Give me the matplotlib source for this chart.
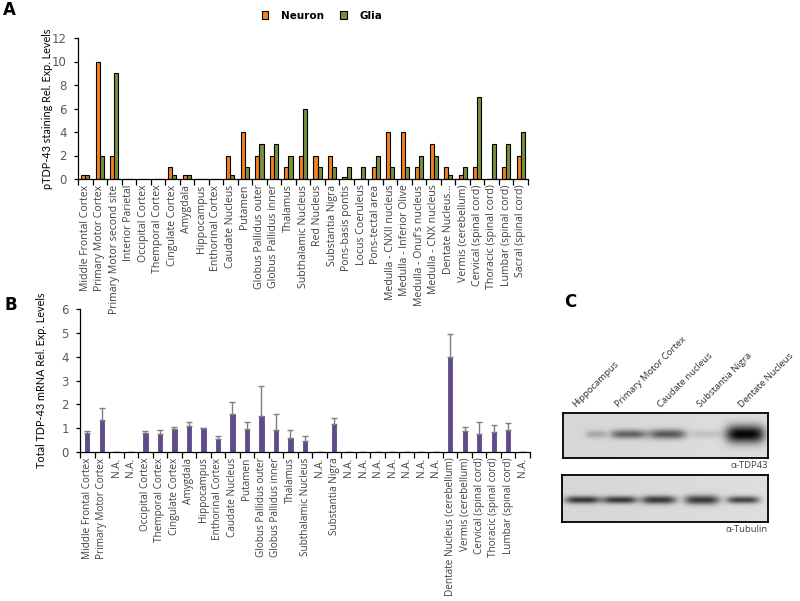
import numpy as np
import matplotlib
matplotlib.use("Agg")
import matplotlib.pyplot as plt
from matplotlib.patches import Patch

# ---- panel A data: pTDP-43 staining ----
regions_a = ["Middle Frontal Cortex", "Primary Motor Cortex", "Primary Motor second site",
             "Interior Parietal", "Occipital Cortex", "Themporal Cortex", "Cingulate Cortex",
             "Amygdala", "Hippocampus", "Enthorinal Cortex", "Caudate Nucleus", "Putamen",
             "Globus Pallidus outer", "Globus Pallidus inner", "Thalamus", "Subthalamic Nucleus",
             "Red Nucleus", "Substantia Nigra", "Pons-basis pontis", "Locus Coeruleus",
             "Pons-tectal area", "Medulla - CNXII nucleus", "Medulla - Inferior Olive",
             "Medulla - Onuf's nucleus", "Medulla - CNX nucleus", "Dentate Nucleus...",
             "Vermis (cerebellum)", "Cervical (spinal cord)", "Thoracic (spinal cord)",
             "Lumbar (spinal cord)", "Sacral (spinal cord)"]
neuron = [0.3, 10, 2, 0, 0, 0, 1, 0.3, 0, 0, 2, 4, 2, 2, 1, 2, 2, 2, 0.2, 0, 1,
          4, 4, 1, 3, 1, 0.3, 1, 0, 1, 2]
glia = [0.3, 2, 9, 0, 0, 0, 0.3, 0.3, 0, 0, 0.3, 1, 3, 3, 2, 6, 1, 1, 1, 1, 2,
        1, 1, 2, 2, 0.3, 1, 7, 3, 3, 4]

# ---- panel B data: total TDP-43 mRNA ----
regions_b = ["Middle Frontal Cortex", "Primary Motor Cortex", "N.A.", "N.A.", "Occipital Cortex",
             "Themporal Cortex", "Cingulate Cortex", "Amygdala", "Hippocampus", "Enthorinal Cortex",
             "Caudate Nucleus", "Putamen", "Globus Pallidus outer", "Globus Pallidus inner",
             "Thalamus", "Subthalamic Nucleus", "N.A.", "Substantia Nigra",
             "N.A.", "N.A.", "N.A.", "N.A.", "N.A.", "N.A.", "N.A.",
             "Dentate Nucleus (cerebellum)", "Vermis (cerebellum)", "Cervical (spinal cord)",
             "Thoracic (spinal cord)", "Lumbar (spinal cord)", "N.A."]
mrna = [0.8, 1.33, 0, 0, 0.8, 0.77, 0.98, 1.08, 1.01, 0.53, 1.61, 0.98, 1.53, 0.91, 0.57,
        0.48, 0, 1.16, 0, 0, 0, 0, 0, 0, 0, 4.0, 0.87, 0.77, 0.86, 0.94, 0]
mrna_err = [0.08, 0.53, 0, 0, 0.08, 0.17, 0.07, 0.18, 0.01, 0.14, 0.49, 0.28, 1.25, 0.7, 0.34,
            0.19, 0, 0.28, 0, 0, 0, 0, 0, 0, 0, 0.95, 0.18, 0.48, 0.26, 0.28, 0]

# ---- panel C: western blot ----
lanes = ["Hippocampus", "Primary Motor Cortex", "Caudate nucleus", "Substantia Nigra", "Dentate Nucleus"]
tdp43_band = [0.22, 0.55, 0.6, 0.12, 1.0]
tubulin_band = [0.75, 0.75, 0.75, 0.75, 0.7]

W, H = 800, 601
fig = plt.figure(figsize=(8, 6.01), dpi=100)

def fax(x0, y0, x1, y1):
    # pixel box -> figure axes
    return fig.add_axes([x0 / W, 1 - y1 / H, (x1 - x0) / W, (y1 - y0) / H])

lab_font = "Open Sans"
gray = "#595959"

def style_axis(ax, labels, ymax, ylabel, ylab_x, fs):
    n = len(labels)
    ax.set_xlim(-0.5, n - 0.5)
    ax.set_ylim(0, ymax)
    ax.set_yticks(range(0, ymax + 1, 2 if ymax > 6 else 1))
    ax.set_xticks(range(n))
    ax.set_xticklabels(labels, rotation=90, fontsize=fs, family=lab_font, color="#404040")
    ax.set_xticks(np.arange(-0.5, n, 1), minor=True)
    ax.tick_params(axis="x", which="major", length=0, pad=4)
    ax.tick_params(axis="x", which="minor", length=4, width=0.9, direction="out")
    ax.tick_params(axis="y", length=3, width=0.9, labelsize=8.5, labelcolor=gray, pad=5)
    for s in ["top", "right"]:
        ax.spines[s].set_visible(False)
    for s in ["left", "bottom"]:
        ax.spines[s].set_linewidth(0.9)
    ax.patch.set_alpha(0)
    ax.set_ylabel(ylabel, fontsize=7.8, family="Lato")
    ax.yaxis.set_label_coords(ylab_x, 0.5)

# panel A
axA = fax(78, 38, 528, 179)
x = np.arange(len(regions_a))
bw = 0.28
axA.bar(x - bw / 2, neuron, bw, color="#F5821F", edgecolor="black", linewidth=0.8)
axA.bar(x + bw / 2, glia, bw, color="#76923C", edgecolor="black", linewidth=0.8)
style_axis(axA, regions_a, 12, "pTDP-43 staining Rel. Exp. Levels", -0.056, 7.6)
handles = [Patch(facecolor="#F5821F", edgecolor="black", linewidth=0.8, label="Neuron"),
           Patch(facecolor="#76923C", edgecolor="black", linewidth=0.8, label="Glia")]
fig.legend(handles=handles, loc="center", bbox_to_anchor=(322 / W, 1 - 16 / H), ncol=2,
           frameon=False, handlelength=0.6, handleheight=0.8, columnspacing=1.6,
           handletextpad=1.2, prop={"weight": "bold", "size": 7.5})

# panel B
axB = fax(80, 309, 530, 452)
xb = np.arange(len(regions_b))
axB.bar(xb, mrna, 0.3, color="#5F4B8B", edgecolor="#4A3A70", linewidth=0.5,
        yerr=[np.zeros(len(mrna_err)), mrna_err], capsize=2.5,
        error_kw={"ecolor": "#7F7F7F", "elinewidth": 1.0, "capthick": 1.0})
style_axis(axB, regions_b, 6, "Total TDP-43 mRNA Rel. Exp. Levels", -0.073, 7.2)

# panel letters
fig.text(3 / W, 1 - 10 / H, "A", fontsize=12, weight="bold", va="center")
fig.text(4 / W, 1 - 305 / H, "B", fontsize=12, weight="bold", va="center")
fig.text(564 / W, 1 - 302 / H, "C", fontsize=12, weight="bold", va="center")

# panel C: blots
def draw_blot(ax, centers, widths, heights, intens, yc, bg=0.84):
    h, w = 60, 300
    xx, yy = np.meshgrid(np.linspace(0, 1, w), np.linspace(0, 1, h))
    img = np.full((h, w), bg) + 0.03 * xx
    for c, bw_, bh, a in zip(centers, widths, heights, intens):
        prof = np.exp(-(((xx - c) / bw_) ** 4) - ((yy - yc) / bh) ** 2)
        img -= a * 0.85 * prof
    ax.imshow(np.clip(img, 0, 1), cmap="gray", vmin=0, vmax=1, aspect="auto",
              extent=[0, 1, 1, 0], interpolation="bilinear")
    ax.set_xticks([])
    ax.set_yticks([])
    for s in ax.spines.values():
        s.set_linewidth(1.3)

blot1 = fax(563, 413, 768, 458)
draw_blot(blot1, [0.16, 0.32, 0.51, 0.70, 0.89], [0.05, 0.09, 0.09, 0.08, 0.095],
          [0.09, 0.1, 0.11, 0.09, 0.2], tdp43_band, 0.47)
blot2 = fax(562, 475, 768, 522)
draw_blot(blot2, [0.1, 0.28, 0.47, 0.68, 0.88], [0.085, 0.085, 0.085, 0.085, 0.08],
          [0.08, 0.08, 0.09, 0.1, 0.08], tubulin_band, 0.53)

lane_x = [577, 620, 662, 702, 743]
for lx, name in zip(lane_x, lanes):
    fig.text(lx / W, 1 - 409 / H, name, rotation=45, rotation_mode="anchor", ha="left",
             va="bottom", fontsize=6.8, family=lab_font, color="#303030")
fig.text(768 / W, 1 - 466 / H, "α-TDP43", ha="right", va="center", fontsize=6.8,
         family=lab_font, color="#404040")
fig.text(768 / W, 1 - 530 / H, "α-Tubulin", ha="right", va="center", fontsize=6.8,
         family=lab_font, color="#404040")

fig.savefig("out.png", dpi=100)
